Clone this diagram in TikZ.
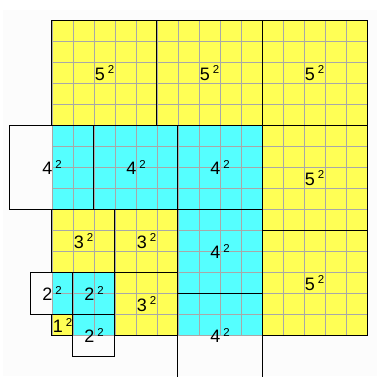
\documentclass[tikz,border=0pt]{standalone}
\usepackage{fontspec}
\setmainfont{Liberation Sans}
\usepackage{tikz}

\definecolor{sqyellow}{HTML}{FFFF55}
\definecolor{sqcyan}{HTML}{55FFFF}
\definecolor{gridgray}{HTML}{A8A8A8}
\definecolor{paper}{HTML}{FCFCFC}

% n^2 label
\newcommand{\sqlabel}[1]{#1\,\raisebox{4.8pt}{\fontsize{8.6}{9}\selectfont 2}}

\begin{document}
\begin{tikzpicture}[x=15.75pt,y=15.75pt,
	sqbox/.style={draw=black,line width=0.75pt},
	lbl/.style={inner sep=0pt,font=\fontsize{13.5}{14}\selectfont}]
	  \useasboundingbox (-2.476,-1.92) rectangle (15.476,15.986);
	  \fill[paper] (-2.33,-1.92) rectangle (15.476,15.51);
	  % colours
	  \fill[sqyellow] (0,0) rectangle (15,15);
	  \fill[sqcyan] (0,6) rectangle (10,10);
	  \fill[sqcyan] (6,0) rectangle (10,6);
	  \fill[sqcyan] (0,1) rectangle (3,3);
	  \fill[sqcyan] (1,0) rectangle (3,1);
	  \fill[sqyellow] (0,0) rectangle (1,1);
	  % grid
	  \foreach \i in {0,...,15} {
	    \draw[gridgray,line width=0.6pt] (\i,0) -- (\i,15);
	    \draw[gridgray,line width=0.6pt] (0,\i) -- (15,\i);
	  }
	  % squares
	  \draw[sqbox] (0,10) rectangle (5,15);
	  \draw[sqbox] (5,10) rectangle (10,15);
	  \draw[sqbox] (10,10) rectangle (15,15);
	  \draw[sqbox] (10,5) rectangle (15,10);
	  \draw[sqbox] (10,0) rectangle (15,5);
	  \draw[sqbox] (-2,6) rectangle (2,10);
	  \draw[sqbox] (2,6) rectangle (6,10);
	  \draw[sqbox] (6,6) rectangle (10,10);
	  \draw[sqbox] (6,2) rectangle (10,6);
	  \draw[sqbox] (6,-2) rectangle (10,2);
	  \draw[sqbox] (0,3) rectangle (3,6);
	  \draw[sqbox] (3,3) rectangle (6,6);
	  \draw[sqbox] (3,0) rectangle (6,3);
	  \draw[sqbox] (-1,1) rectangle (1,3);
	  \draw[sqbox] (1,1) rectangle (3,3);
	  \draw[sqbox] (1,-1) rectangle (3,1);
	  \draw[sqbox] (0,0) rectangle (1,1);
	  % labels
	  \node[lbl] (l5a) at (2.5,12.5) {\sqlabel{5}};
	  \node[lbl] (l5b) at (7.5,12.5) {\sqlabel{5}};
	  \node[lbl] (l5c) at (12.5,12.5) {\sqlabel{5}};
	  \node[lbl] (l5d) at (12.5,7.5) {\sqlabel{5}};
	  \node[lbl] (l5e) at (12.5,2.5) {\sqlabel{5}};
	  \node[lbl] (l4a) at (0,8) {\sqlabel{4}};
	  \node[lbl] (l4b) at (4,8) {\sqlabel{4}};
	  \node[lbl] (l4c) at (8,8) {\sqlabel{4}};
	  \node[lbl] (l4d) at (8,4) {\sqlabel{4}};
	  \node[lbl] (l4e) at (8,0) {\sqlabel{4}};
	  \node[lbl] (l3a) at (1.5,4.5) {\sqlabel{3}};
	  \node[lbl] (l3b) at (4.5,4.5) {\sqlabel{3}};
	  \node[lbl] (l3c) at (4.5,1.5) {\sqlabel{3}};
	  \node[lbl] (l2a) at (0,2) {\sqlabel{2}};
	  \node[lbl] (l2b) at (2,2) {\sqlabel{2}};
	  \node[lbl] (l2c) at (2,0) {\sqlabel{2}};
	  \node[lbl] (l1) at (0.5,0.5) {\sqlabel{1}};
\end{tikzpicture}
\end{document}
